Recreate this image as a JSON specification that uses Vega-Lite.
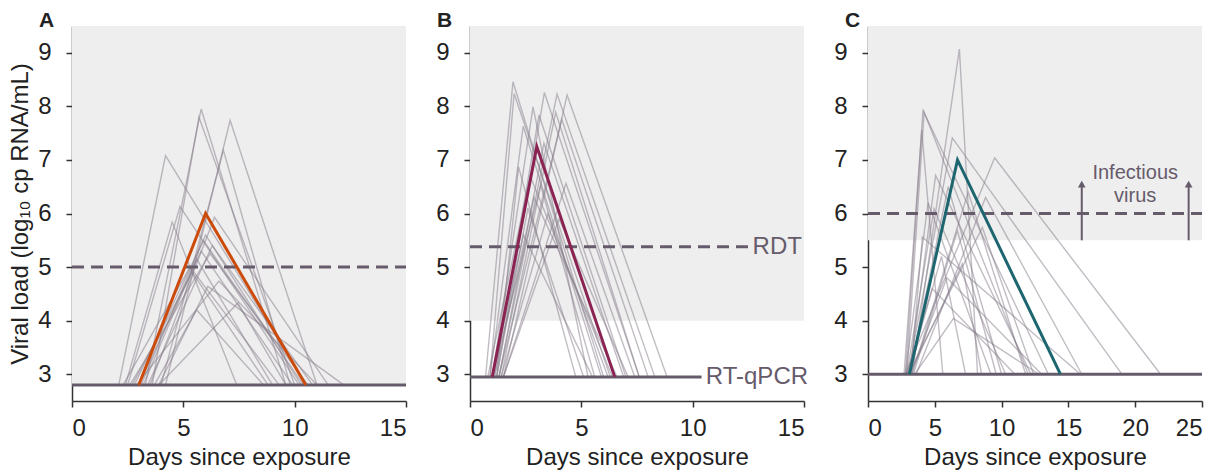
{
  "$schema": "https://vega.github.io/schema/vega-lite/v6.json",
  "padding": {"left": 8, "top": 10, "right": 4, "bottom": 2},
  "background": "white",
  "config": {
    "font": "Liberation Sans",
    "view": {"stroke": null},
    "axis": {"grid": false, "domainColor": "#333333", "tickColor": "#333333", "domainWidth": 1.5, "tickWidth": 1.5, "labelColor": "#222222", "titleColor": "#222222", "labelFontSize": 24, "titleFontSize": 24, "titleFontWeight": "normal", "labelFont": "Liberation Sans", "titleFont": "Liberation Sans", "tickSize": 6},
    "axisX": {"labelPadding": 9, "titlePadding": 5},
    "axisY": {"labelPadding": 15, "titlePadding": 5},
    "title": {"font": "Liberation Sans", "fontSize": 21, "fontWeight": "bold", "color": "#222222", "anchor": "start", "frame": "group", "offset": -5}
  },
  "bounds": "flush",
  "spacing": 64,
  "datasets": {
    "bg": [
      {"p": "A", "d": 0, "d2": 15, "v": 2.8, "v2": 9.5},
      {"p": "B", "d": 0, "d2": 15, "v": 4.0, "v2": 9.5},
      {"p": "C", "d": 0, "d2": 25, "v": 5.5, "v2": 9.5}
    ],
    "thr": [
      {"p": "A", "k": "dash", "d": 0, "d2": 15, "v": 5.0},
      {"p": "A", "k": "solid", "d": 0, "d2": 15, "v": 2.8},
      {"p": "B", "k": "dash", "d": 0, "d2": 12.5, "v": 5.38},
      {"p": "B", "k": "solid", "d": 0, "d2": 10.4, "v": 2.95},
      {"p": "C", "k": "dash", "d": 0, "d2": 25, "v": 6.0},
      {"p": "C", "k": "solid", "d": 0, "d2": 25, "v": 3.0}
    ],
    "lab": [
      {"p": "B", "d": 12.6, "v": 5.38, "t": "RDT"},
      {"p": "B", "d": 10.5, "v": 2.95, "t": "RT-qPCR"},
      {"p": "C", "d": 20.0, "v": 6.76, "t": "Infectious"},
      {"p": "C", "d": 20.0, "v": 6.32, "t": "virus"}
    ],
    "arr": [
      {"p": "C", "d": 16, "v": 5.5, "v2": 6.55},
      {"p": "C", "d": 24, "v": 5.5, "v2": 6.55}
    ],
    "hl": [
      {"p": "A", "d": 3.0, "v": 2.8}, {"p": "A", "d": 6.0, "v": 6.0}, {"p": "A", "d": 10.5, "v": 2.8},
      {"p": "B", "d": 1.0, "v": 2.95}, {"p": "B", "d": 3.0, "v": 7.25}, {"p": "B", "d": 6.5, "v": 2.95},
      {"p": "C", "d": 3.1, "v": 3.0}, {"p": "C", "d": 6.7, "v": 7.0}, {"p": "C", "d": 14.4, "v": 3.0}
    ],
    "lines": [
      {"p":"A","id":1,"d":3.3,"v":2.8},{"p":"A","id":1,"d":5.8,"v":7.95},{"p":"A","id":1,"d":9.6,"v":2.8},
      {"p":"A","id":2,"d":3.6,"v":2.8},{"p":"A","id":2,"d":5.7,"v":7.8},{"p":"A","id":2,"d":10.0,"v":2.8},
      {"p":"A","id":3,"d":4.2,"v":2.8},{"p":"A","id":3,"d":7.1,"v":7.74},{"p":"A","id":3,"d":11.0,"v":2.8},
      {"p":"A","id":4,"d":2.1,"v":2.8},{"p":"A","id":4,"d":4.2,"v":7.08},{"p":"A","id":4,"d":10.5,"v":2.8},
      {"p":"A","id":5,"d":4.0,"v":2.8},{"p":"A","id":5,"d":6.8,"v":7.18},{"p":"A","id":5,"d":9.8,"v":2.8},
      {"p":"A","id":6,"d":2.5,"v":2.8},{"p":"A","id":6,"d":4.85,"v":6.13},{"p":"A","id":6,"d":10.2,"v":2.8},
      {"p":"A","id":7,"d":2.4,"v":2.8},{"p":"A","id":7,"d":4.5,"v":5.84},{"p":"A","id":7,"d":7.4,"v":2.8},
      {"p":"A","id":8,"d":3.5,"v":2.8},{"p":"A","id":8,"d":6.4,"v":5.93},{"p":"A","id":8,"d":11.5,"v":2.8},
      {"p":"A","id":9,"d":2.8,"v":2.8},{"p":"A","id":9,"d":5.9,"v":5.5},{"p":"A","id":9,"d":10.4,"v":2.8},
      {"p":"A","id":10,"d":3.0,"v":2.8},{"p":"A","id":10,"d":5.8,"v":5.3},{"p":"A","id":10,"d":9.9,"v":2.8},
      {"p":"A","id":11,"d":2.6,"v":2.8},{"p":"A","id":11,"d":6.2,"v":5.25},{"p":"A","id":11,"d":10.6,"v":2.8},
      {"p":"A","id":12,"d":3.2,"v":2.8},{"p":"A","id":12,"d":5.6,"v":5.15},{"p":"A","id":12,"d":9.0,"v":2.8},
      {"p":"A","id":13,"d":3.9,"v":2.8},{"p":"A","id":13,"d":6.1,"v":4.64},{"p":"A","id":13,"d":12.2,"v":2.8},
      {"p":"A","id":14,"d":3.7,"v":2.8},{"p":"A","id":14,"d":5.6,"v":4.2},{"p":"A","id":14,"d":8.6,"v":2.8},
      {"p":"A","id":15,"d":2.3,"v":2.8},{"p":"A","id":15,"d":5.3,"v":5.0},{"p":"A","id":15,"d":9.3,"v":2.8},
      {"p":"A","id":16,"d":3.9,"v":2.8},{"p":"A","id":16,"d":7.45,"v":4.33},{"p":"A","id":16,"d":9.6,"v":2.8},
      {"p":"A","id":17,"d":2.9,"v":2.8},{"p":"A","id":17,"d":6.6,"v":4.74},{"p":"A","id":17,"d":11.0,"v":2.8},
      {"p":"A","id":18,"d":3.1,"v":2.8},{"p":"A","id":18,"d":6.0,"v":5.6},{"p":"A","id":18,"d":10.3,"v":2.8},
      {"p":"A","id":19,"d":2.7,"v":2.8},{"p":"A","id":19,"d":5.4,"v":4.9},{"p":"A","id":19,"d":8.8,"v":2.8},
      {"p":"A","id":20,"d":3.4,"v":2.8},{"p":"A","id":20,"d":6.3,"v":5.4},{"p":"A","id":20,"d":10.8,"v":2.8},
      {"p":"B","id":1,"d":0.7,"v":2.95},{"p":"B","id":1,"d":1.93,"v":8.46},{"p":"B","id":1,"d":6.0,"v":2.95},
      {"p":"B","id":2,"d":0.9,"v":2.95},{"p":"B","id":2,"d":1.98,"v":8.24},{"p":"B","id":2,"d":6.3,"v":2.95},
      {"p":"B","id":3,"d":1.2,"v":2.95},{"p":"B","id":3,"d":3.34,"v":8.26},{"p":"B","id":3,"d":7.6,"v":2.95},
      {"p":"B","id":4,"d":1.3,"v":2.95},{"p":"B","id":4,"d":3.91,"v":8.23},{"p":"B","id":4,"d":8.3,"v":2.95},
      {"p":"B","id":5,"d":1.5,"v":2.95},{"p":"B","id":5,"d":4.36,"v":8.21},{"p":"B","id":5,"d":8.85,"v":2.95},
      {"p":"B","id":6,"d":1.0,"v":2.95},{"p":"B","id":6,"d":2.83,"v":7.99},{"p":"B","id":6,"d":5.3,"v":2.95},
      {"p":"B","id":7,"d":1.1,"v":2.95},{"p":"B","id":7,"d":3.1,"v":7.84},{"p":"B","id":7,"d":7.0,"v":2.95},
      {"p":"B","id":8,"d":1.4,"v":2.95},{"p":"B","id":8,"d":3.85,"v":7.89},{"p":"B","id":8,"d":7.6,"v":2.95},
      {"p":"B","id":9,"d":1.3,"v":2.95},{"p":"B","id":9,"d":4.12,"v":7.76},{"p":"B","id":9,"d":8.0,"v":2.95},
      {"p":"B","id":10,"d":0.9,"v":2.95},{"p":"B","id":10,"d":2.39,"v":7.63},{"p":"B","id":10,"d":5.9,"v":2.95},
      {"p":"B","id":11,"d":1.2,"v":2.95},{"p":"B","id":11,"d":2.18,"v":6.87},{"p":"B","id":11,"d":4.75,"v":2.95},
      {"p":"B","id":12,"d":1.5,"v":2.95},{"p":"B","id":12,"d":4.31,"v":6.56},{"p":"B","id":12,"d":7.4,"v":2.95},
      {"p":"B","id":13,"d":1.0,"v":2.95},{"p":"B","id":13,"d":3.17,"v":6.53},{"p":"B","id":13,"d":5.6,"v":2.95},
      {"p":"B","id":14,"d":1.1,"v":2.95},{"p":"B","id":14,"d":2.87,"v":6.3},{"p":"B","id":14,"d":6.6,"v":2.95},
      {"p":"B","id":15,"d":1.3,"v":2.95},{"p":"B","id":15,"d":3.32,"v":7.31},{"p":"B","id":15,"d":6.9,"v":2.95},
      {"p":"B","id":16,"d":1.2,"v":2.95},{"p":"B","id":16,"d":2.6,"v":6.1},{"p":"B","id":16,"d":5.1,"v":2.95},
      {"p":"B","id":17,"d":1.4,"v":2.95},{"p":"B","id":17,"d":3.5,"v":6.0},{"p":"B","id":17,"d":6.2,"v":2.95},
      {"p":"B","id":18,"d":1.0,"v":2.95},{"p":"B","id":18,"d":2.4,"v":5.6},{"p":"B","id":18,"d":5.5,"v":2.95},
      {"p":"B","id":19,"d":1.5,"v":2.95},{"p":"B","id":19,"d":4.0,"v":5.9},{"p":"B","id":19,"d":7.1,"v":2.95},
      {"p":"B","id":20,"d":0.8,"v":2.95},{"p":"B","id":20,"d":2.7,"v":6.7},{"p":"B","id":20,"d":6.4,"v":2.95},
      {"p":"C","id":1,"d":3.3,"v":3.0},{"p":"C","id":1,"d":6.84,"v":9.07},{"p":"C","id":1,"d":8.2,"v":3.0},
      {"p":"C","id":2,"d":2.8,"v":3.0},{"p":"C","id":2,"d":4.12,"v":7.94},{"p":"C","id":2,"d":12.0,"v":3.0},
      {"p":"C","id":3,"d":2.9,"v":3.0},{"p":"C","id":3,"d":4.2,"v":7.88},{"p":"C","id":3,"d":13.5,"v":3.0},
      {"p":"C","id":4,"d":2.7,"v":3.0},{"p":"C","id":4,"d":4.02,"v":7.56},{"p":"C","id":4,"d":5.6,"v":3.0},
      {"p":"C","id":5,"d":3.0,"v":3.0},{"p":"C","id":5,"d":6.31,"v":7.41},{"p":"C","id":5,"d":19.0,"v":3.0},
      {"p":"C","id":6,"d":2.8,"v":3.0},{"p":"C","id":6,"d":9.48,"v":7.04},{"p":"C","id":6,"d":21.9,"v":3.0},
      {"p":"C","id":7,"d":3.1,"v":3.0},{"p":"C","id":7,"d":5.06,"v":6.71},{"p":"C","id":7,"d":12.2,"v":3.0},
      {"p":"C","id":8,"d":2.9,"v":3.0},{"p":"C","id":8,"d":4.94,"v":6.09},{"p":"C","id":8,"d":10.3,"v":3.0},
      {"p":"C","id":9,"d":3.2,"v":3.0},{"p":"C","id":9,"d":4.07,"v":5.56},{"p":"C","id":9,"d":15.9,"v":3.0},
      {"p":"C","id":10,"d":3.4,"v":3.0},{"p":"C","id":10,"d":6.69,"v":5.68},{"p":"C","id":10,"d":9.6,"v":3.0},
      {"p":"C","id":11,"d":3.0,"v":3.0},{"p":"C","id":11,"d":8.56,"v":5.74},{"p":"C","id":11,"d":12.4,"v":3.0},
      {"p":"C","id":12,"d":3.5,"v":3.0},{"p":"C","id":12,"d":6.39,"v":4.04},{"p":"C","id":12,"d":12.8,"v":3.0},
      {"p":"C","id":13,"d":3.1,"v":3.0},{"p":"C","id":13,"d":7.06,"v":5.06},{"p":"C","id":13,"d":8.5,"v":3.0},
      {"p":"C","id":14,"d":2.9,"v":3.0},{"p":"C","id":14,"d":4.8,"v":4.6},{"p":"C","id":14,"d":11.0,"v":3.0},
      {"p":"C","id":15,"d":3.3,"v":3.0},{"p":"C","id":15,"d":7.5,"v":6.4},{"p":"C","id":15,"d":11.8,"v":3.0},
      {"p":"C","id":16,"d":3.0,"v":3.0},{"p":"C","id":16,"d":5.5,"v":5.2},{"p":"C","id":16,"d":7.3,"v":3.0},
      {"p":"C","id":17,"d":3.2,"v":3.0},{"p":"C","id":17,"d":5.9,"v":4.8},{"p":"C","id":17,"d":13.0,"v":3.0},
      {"p":"C","id":18,"d":2.8,"v":3.0},{"p":"C","id":18,"d":4.5,"v":6.2},{"p":"C","id":18,"d":9.2,"v":3.0},
      {"p":"C","id":19,"d":3.6,"v":3.0},{"p":"C","id":19,"d":8.8,"v":6.3},{"p":"C","id":19,"d":16.0,"v":3.0},
      {"p":"C","id":20,"d":3.1,"v":3.0},{"p":"C","id":20,"d":6.0,"v":6.5},{"p":"C","id":20,"d":10.0,"v":3.0}
    ]
  },
  "hconcat": [
    {
      "width": 334, "height": 375,
      "title": {"text": "A", "dx": -33},
      "encoding": {
        "x": {"field": "d", "type": "quantitative", "scale": {"domain": [0, 15], "nice": false}, "axis": {"title": "Days since exposure", "values": [0, 5, 10, 15]}},
        "y": {"field": "v", "type": "quantitative", "scale": {"domain": [2.5, 9.5], "nice": false}, "axis": {"title": "Viral load (log₁₀ cp RNA/mL)", "values": [3, 4, 5, 6, 7, 8, 9]}}
      },
      "layer": [
        {"data": {"name": "bg"}, "transform": [{"filter": "datum.p == 'A'"}], "mark": {"type": "rect", "color": "#EEEEEE"}, "encoding": {"x2": {"field": "d2"}, "y2": {"field": "v2"}}},
        {"data": {"name": "lines"}, "transform": [{"filter": "datum.p == 'A'"}], "mark": {"type": "line", "color": "#857B8A", "opacity": 0.5, "strokeWidth": 1.4}, "encoding": {"detail": {"field": "id"}, "order": {"field": "d"}}},
        {"data": {"name": "thr"}, "transform": [{"filter": "datum.p == 'A' && datum.k == 'dash'"}], "mark": {"type": "rule", "color": "#665B6B", "strokeWidth": 3, "strokeDash": [12, 7]}, "encoding": {"x2": {"field": "d2"}}},
        {"data": {"name": "thr"}, "transform": [{"filter": "datum.p == 'A' && datum.k == 'solid'"}], "mark": {"type": "rule", "color": "#665B6B", "strokeWidth": 3}, "encoding": {"x2": {"field": "d2"}}},
        {"data": {"name": "hl"}, "transform": [{"filter": "datum.p == 'A'"}], "mark": {"type": "line", "color": "#CC4A0A", "strokeWidth": 3}, "encoding": {"order": {"field": "d"}}}
      ]
    },
    {
      "width": 334, "height": 375,
      "title": {"text": "B", "dx": -33},
      "encoding": {
        "x": {"field": "d", "type": "quantitative", "scale": {"domain": [0, 15], "nice": false}, "axis": {"title": "Days since exposure", "values": [0, 5, 10, 15]}},
        "y": {"field": "v", "type": "quantitative", "scale": {"domain": [2.5, 9.5], "nice": false}, "axis": {"title": null, "values": [3, 4, 5, 6, 7, 8, 9]}}
      },
      "layer": [
        {"data": {"name": "bg"}, "transform": [{"filter": "datum.p == 'B'"}], "mark": {"type": "rect", "color": "#EEEEEE"}, "encoding": {"x2": {"field": "d2"}, "y2": {"field": "v2"}}},
        {"data": {"name": "lines"}, "transform": [{"filter": "datum.p == 'B'"}], "mark": {"type": "line", "color": "#857B8A", "opacity": 0.5, "strokeWidth": 1.4}, "encoding": {"detail": {"field": "id"}, "order": {"field": "d"}}},
        {"data": {"name": "thr"}, "transform": [{"filter": "datum.p == 'B' && datum.k == 'dash'"}], "mark": {"type": "rule", "color": "#665B6B", "strokeWidth": 3, "strokeDash": [12, 7]}, "encoding": {"x2": {"field": "d2"}}},
        {"data": {"name": "thr"}, "transform": [{"filter": "datum.p == 'B' && datum.k == 'solid'"}], "mark": {"type": "rule", "color": "#665B6B", "strokeWidth": 3}, "encoding": {"x2": {"field": "d2"}}},
        {"data": {"name": "hl"}, "transform": [{"filter": "datum.p == 'B'"}], "mark": {"type": "line", "color": "#8A2352", "strokeWidth": 3}, "encoding": {"order": {"field": "d"}}},
        {"data": {"name": "lab"}, "transform": [{"filter": "datum.p == 'B'"}], "mark": {"type": "text", "color": "#665B6B", "align": "left", "baseline": "middle", "fontSize": 24, "dx": 2}, "encoding": {"text": {"field": "t"}}}
      ]
    },
    {
      "width": 334, "height": 375,
      "title": {"text": "C", "dx": -23},
      "encoding": {
        "x": {"field": "d", "type": "quantitative", "scale": {"domain": [0, 25], "nice": false}, "axis": {"title": "Days since exposure", "values": [0, 5, 10, 15, 20, 25]}},
        "y": {"field": "v", "type": "quantitative", "scale": {"domain": [2.5, 9.5], "nice": false}, "axis": {"title": null, "values": [3, 4, 5, 6, 7, 8, 9]}}
      },
      "layer": [
        {"data": {"name": "bg"}, "transform": [{"filter": "datum.p == 'C'"}], "mark": {"type": "rect", "color": "#EEEEEE"}, "encoding": {"x2": {"field": "d2"}, "y2": {"field": "v2"}}},
        {"data": {"name": "lines"}, "transform": [{"filter": "datum.p == 'C'"}], "mark": {"type": "line", "color": "#857B8A", "opacity": 0.5, "strokeWidth": 1.4}, "encoding": {"detail": {"field": "id"}, "order": {"field": "d"}}},
        {"data": {"name": "thr"}, "transform": [{"filter": "datum.p == 'C' && datum.k == 'dash'"}], "mark": {"type": "rule", "color": "#665B6B", "strokeWidth": 3, "strokeDash": [12, 7]}, "encoding": {"x2": {"field": "d2"}}},
        {"data": {"name": "thr"}, "transform": [{"filter": "datum.p == 'C' && datum.k == 'solid'"}], "mark": {"type": "rule", "color": "#665B6B", "strokeWidth": 3}, "encoding": {"x2": {"field": "d2"}}},
        {"data": {"name": "arr"}, "mark": {"type": "rule", "color": "#665B6B", "strokeWidth": 2}, "encoding": {"y2": {"field": "v2"}}},
        {"data": {"name": "arr"}, "mark": {"type": "point", "shape": "triangle-up", "filled": true, "color": "#665B6B", "size": 60, "opacity": 1}, "encoding": {"y": {"field": "v2", "type": "quantitative"}}},
        {"data": {"name": "hl"}, "transform": [{"filter": "datum.p == 'C'"}], "mark": {"type": "line", "color": "#1D6670", "strokeWidth": 3}, "encoding": {"order": {"field": "d"}}},
        {"data": {"name": "lab"}, "transform": [{"filter": "datum.p == 'C'"}], "mark": {"type": "text", "color": "#665B6B", "align": "center", "baseline": "middle", "fontSize": 20}, "encoding": {"text": {"field": "t"}}}
      ]
    }
  ]
}
